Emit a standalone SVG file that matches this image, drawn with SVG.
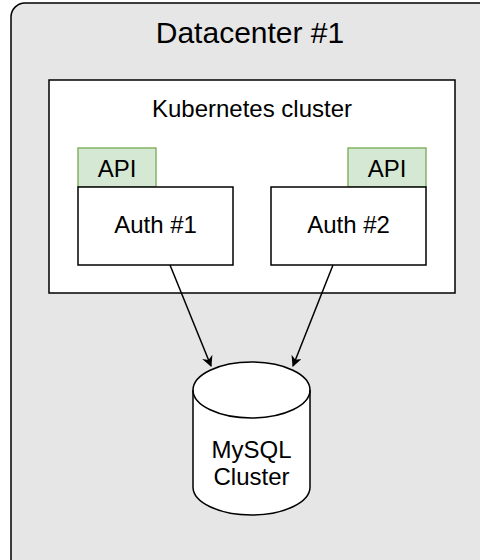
<svg xmlns="http://www.w3.org/2000/svg" width="480" height="560" viewBox="0 0 480 560">
<defs>
<style>
.box{fill:#ffffff;stroke:#000000;stroke-width:1.5}
.api{fill:#d5e8d4;stroke:#82b366;stroke-width:1.5}
.t{font-family:"Liberation Sans",Arial,Helvetica,sans-serif;fill:#000000;text-anchor:middle;font-size:24px}
.edge{fill:none;stroke:#000000;stroke-width:1.5}
</style>
<marker id="arr" viewBox="0 0 10 10" refX="9" refY="5" markerWidth="11" markerHeight="11" markerUnits="userSpaceOnUse" orient="auto">
<path d="M0,0 L10,5 L0,10 L3,5 Z" fill="#000000"/>
</marker>
</defs>
<rect width="480" height="560" fill="#ffffff"/>
<g id="datacenter">
<rect x="11" y="3" width="500" height="600" rx="14" ry="14" fill="#e6e6e6" stroke="#000000" stroke-width="1.5"/>
<text class="t" x="250" y="43" style="font-size:30px">Datacenter #1</text>
</g>
<g id="k8s">
<rect class="box" x="49" y="80" width="406" height="213"/>
<text class="t" x="252" y="117">Kubernetes cluster</text>
</g>
<g id="api1">
<rect class="api" x="78" y="148" width="78" height="39"/>
<text class="t" x="117" y="177">API</text>
</g>
<g id="auth1">
<rect class="box" x="78" y="187" width="155" height="78"/>
<text class="t" x="155.5" y="233">Auth #1</text>
</g>
<g id="api2">
<rect class="api" x="348" y="148" width="78" height="39"/>
<text class="t" x="387" y="177">API</text>
</g>
<g id="auth2">
<rect class="box" x="271" y="187" width="155" height="78"/>
<text class="t" x="348.5" y="233">Auth #2</text>
</g>
<g id="connectors">
<line class="edge" x1="170" y1="265" x2="211" y2="366" marker-end="url(#arr)"/>
<line class="edge" x1="333" y1="265" x2="293" y2="366" marker-end="url(#arr)"/>
</g>
<g id="mysql">
<path d="M193,390 A58.5,28 0 0 1 310,390 L310,487 A58.5,28 0 0 1 193,487 Z" fill="#ffffff" stroke="#000000" stroke-width="1.5"/>
<path d="M193,390 A58.5,28 0 0 0 310,390" fill="none" stroke="#000000" stroke-width="1.5"/>
<text class="t" x="251.5" y="458">MySQL</text>
<text class="t" x="251.5" y="485">Cluster</text>
</g>
</svg>
